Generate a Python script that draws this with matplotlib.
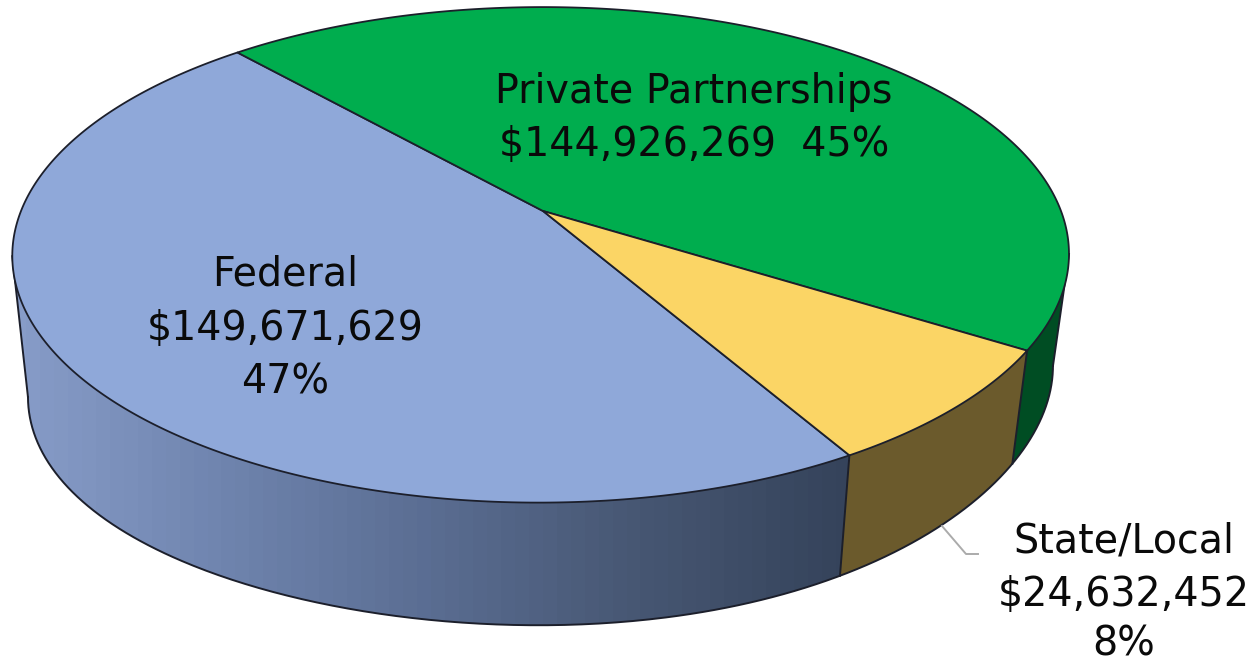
"""3D-Tortendiagramm der Finanzierungsquellen."""
import numpy as np
import matplotlib
matplotlib.use("Agg")
import matplotlib.pyplot as plt
from matplotlib.colors import LinearSegmentedColormap
from matplotlib.patches import Polygon

# Werte aus dem Bild
categories = ["Federal", "Private Partnerships", "State/Local"]
amounts = [149671629, 144926269, 24632452]

top_colors = ["#8FA8D9", "#00AD4E", "#FBD565"]
side_colors = [["#879CC8", "#6F84AE", "#5A6D92", "#475773", "#35435B"], ["#004D23"], ["#6B5A2C"]]
EDGE = "#1C1F2B"

# Perspektive (Pixel im Bild)
CX, CY = 541.0, 211.0
APEX_X = 543.0
A, B, C = 520.0, 240.0, 0.177
SKEW = 2.0
SHRINK = 0.03
VX, VY = 535.0, 4590.0
TILT = 13.0  # Bodenkreis ist links tiefer als rechts
START = 131.6  # Grad, Grenze Federal/Private

plt.rcParams["font.family"] = ["DejaVu Sans"]


def top_point(deg):
    t = np.radians(deg)
    w = 1 + C * np.sin(t)
    return CX + (A * np.cos(t) + SKEW * np.sin(t)) / w, CY - B * np.sin(t) / w


def bottom_point(deg):
    x, y = top_point(deg)
    tilt = -TILT * np.where(x < CX, 0.6, 1.0) * ((x - CX) / 473.0) ** 3
    return x + SHRINK * (VX - x), y + SHRINK * (VY - y) + tilt


def arc(func, a, b, n=200):
    xs, ys = func(np.linspace(a, b, n))
    return np.column_stack([xs, ys])


fig = plt.figure(figsize=(12.58, 6.62), dpi=100)
ax = fig.add_axes([0, 0, 1, 1])

# Winkel aus den Werten: Private im Uhrzeigersinn ab START, dann State, dann Federal
total = sum(amounts)
sweep = [v / total * 360 for v in amounts]
green_end = START - sweep[1]
yellow_end = green_end - sweep[2]
fed_end = yellow_end - sweep[0]
spans = {0: (yellow_end, fed_end), 1: (START, green_end), 2: (green_end, yellow_end)}

# Seitenwand: nur der sichtbare vordere Teil
grid = np.linspace(-270, 90, 1441)
gx, _ = top_point(grid)
left_t = grid[np.argmin(np.where(grid < -90, gx, np.inf))]
right_t = grid[np.argmax(np.where(grid > -90, gx, -np.inf))]

side_ranges = [(left_t, yellow_end), (yellow_end, green_end), (green_end, right_t)]
side_order = [0, 2, 1]
for (a, b), idx in zip(side_ranges, side_order):
    pts = np.vstack([arc(top_point, a, b), arc(bottom_point, b, a)])
    poly = Polygon(pts, closed=True, facecolor="none", edgecolor="none")
    ax.add_patch(poly)
    cols = side_colors[idx]
    if len(cols) > 1:
        cmap = LinearSegmentedColormap.from_list("side", cols)
        im = ax.imshow(np.linspace(0, 1, 60)[None, :], cmap=cmap, aspect="auto",
                       extent=(pts[:, 0].min(), pts[:, 0].max(), pts[:, 1].max(), pts[:, 1].min()),
                       zorder=1)
        im.set_clip_path(poly)
    else:
        poly.set_facecolor(cols[0])
        poly.set_zorder(1)
    # Trennlinie
    bx, by = top_point(b)
    bx2, by2 = bottom_point(b)
    ax.plot([bx, bx2], [by, by2], color=EDGE, lw=1.4, zorder=2)

# Außenkontur unten
lx, ly = top_point(left_t)
lx2, ly2 = bottom_point(left_t)
ax.plot([lx, lx2], [ly, ly2], color=EDGE, lw=1.4, zorder=2)
outline = arc(bottom_point, left_t, right_t, 400)
ax.plot(outline[:, 0], outline[:, 1], color=EDGE, lw=1.4, zorder=2)

# Deckfläche
for i, cat in enumerate(categories):
    a, b = spans[i]
    pts = np.vstack([[[APEX_X, CY]], arc(top_point, a, b, 300)])
    ax.add_patch(Polygon(pts, closed=True, facecolor=top_colors[i], edgecolor=EDGE,
                         lw=1.3, joinstyle="round", zorder=3))

# Führungslinie State/Local
ax.plot([942, 966, 978], [526, 554, 554], color="#ABABAB", lw=1.4, zorder=4)

# Beschriftung
pct = [round(v / total * 100) for v in amounts]
FS = 28.5
kw = dict(ha="center", va="center", fontsize=FS, color="#0A0A0A", zorder=5)
ax.text(694, 92, categories[1], **kw)
ax.text(694, 145, f"${amounts[1]:,}  {pct[1]}%", **kw)
for line, y in zip([categories[0], f"${amounts[0]:,}", f"{pct[0]}%"], [275, 329, 382]):
    ax.text(285, y, line, **kw)
for line, y in zip([categories[2], f"${amounts[2]:,}", f"{pct[2]}%"], [542, 595, 644]):
    ax.text(1124, y, line, **kw)

ax.set_xlim(0, 1258)
ax.set_ylim(662, 0)
ax.axis("off")
fig.savefig("out.png", dpi=100, facecolor="white")
